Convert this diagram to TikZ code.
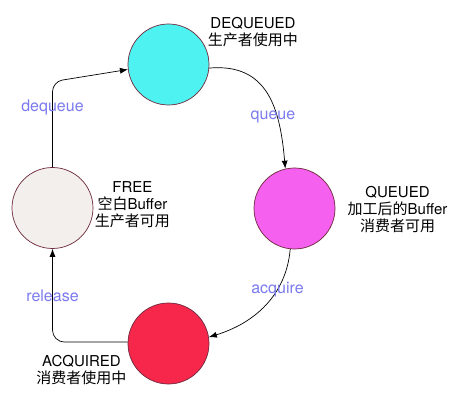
\documentclass[tikz,border=0pt]{standalone}
\usepackage{fontspec}
\setmainfont{TeX Gyre Heros}
\newfontfamily\cjk{Noto Sans CJK SC}
\usetikzlibrary{arrows.meta,positioning}
\definecolor{DeqCyan}{RGB}{78,243,241}
\definecolor{QueMagenta}{RGB}{245,97,238}
\definecolor{AcqRed}{RGB}{247,38,75}
\definecolor{FreeWhite}{RGB}{243,239,236}
\definecolor{EdgeBlue}{RGB}{122,122,238}
\definecolor{RimRed}{RGB}{110,40,60}

\begin{document}
\begin{tikzpicture}[>={Latex[length=8pt,width=6pt]},on grid,x=1pt,y=1pt,line width=0.7pt,
  state/.style={draw=RimRed,line width=0.7pt,circle,minimum size=81pt,inner sep=0pt},
  note/.style={align=center,font=\fontsize{15}{17}\selectfont},
  tag/.style={text=EdgeBlue,font=\fontsize{16}{18}\selectfont}]
\useasboundingbox (-168.5,64.5) rectangle (297.5,-336.5);
\node[state,fill=DeqCyan] (deq) at (0,0) {};
\node[state,fill=FreeWhite,below left=143.5pt and 116pt of deq] (free) {};
\node[state,fill=QueMagenta,below right=144pt and 126pt of deq] (que) {};
\node[state,fill=AcqRed,below=279pt of deq] (acq) {};
\node[note,above right=32.5pt and 84.5pt of deq] (deqtxt) {DEQUEUED\\{\cjk 生产者使用中}};
\node[note,above right=3pt and 80pt of free] (freetxt) {FREE\\{\cjk 空白}Buffer\\{\cjk 生产者可用}};
\node[note,below right=1pt and 103pt of que] (quetxt) {QUEUED\\{\cjk 加工后的}Buffer\\{\cjk 消费者可用}};
\node[note,below left=27pt and 87pt of acq] (acqtxt) {ACQUIRED\\{\cjk 消费者使用中}};
\draw[->,rounded corners=10pt] (free.north) -- node[tag,pos=.7]{dequeue} ++(0,85.5) -- (deq.187);
\draw[->] (deq.-5) to[out=5,in=95,looseness=1.2] node[tag,pos=.68,xshift=-4pt]{queue} (que.103);
\draw[->] (que.264) to[out=265,in=17] node[tag,pos=.33]{acquire} (acq.9);
\draw[->,rounded corners=12pt] (acq.178) -| node[tag,pos=.75]{release} (free.south);
\end{tikzpicture}
\end{document}
